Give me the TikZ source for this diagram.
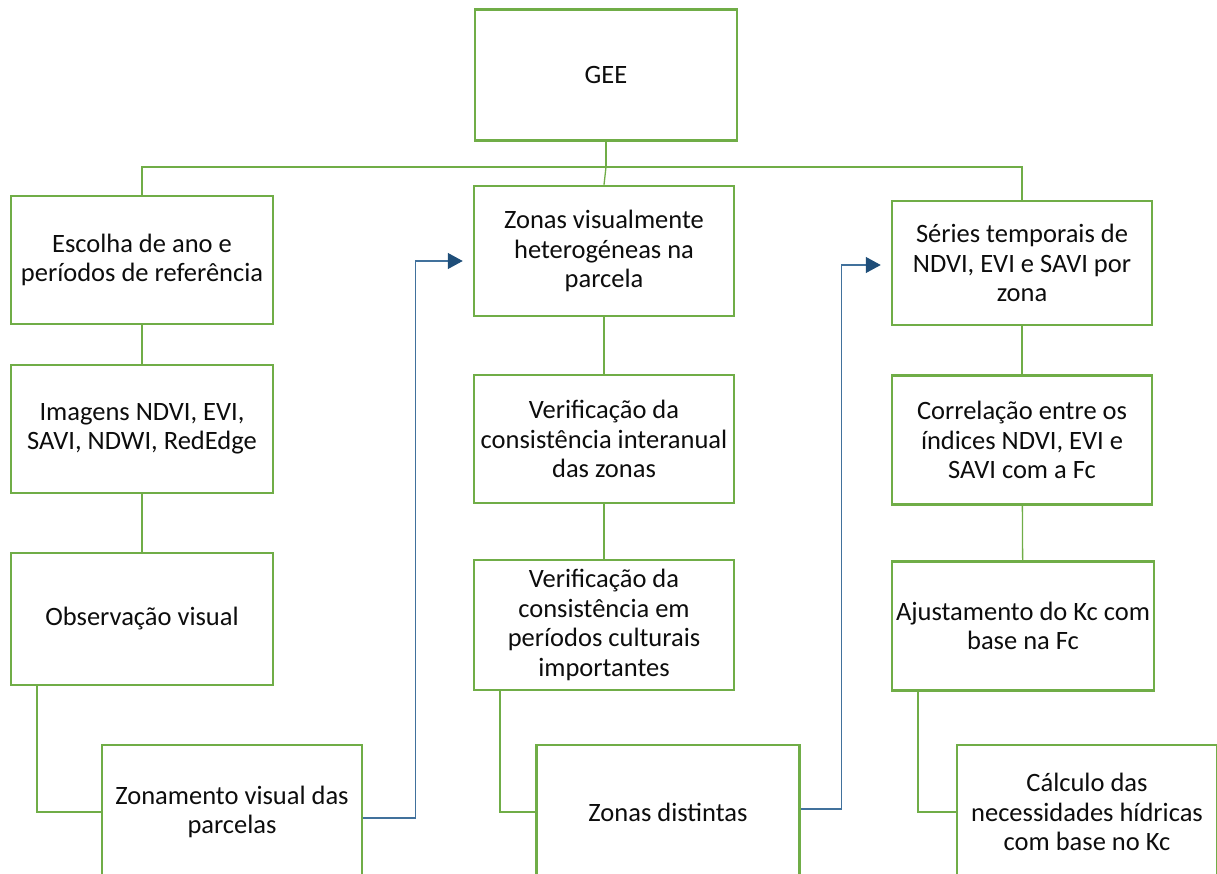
\documentclass[tikz,border=0pt]{standalone}
\usepackage{fontspec}
\setmainfont{Carlito}
\usetikzlibrary{arrows.meta}
\definecolor{boxgreen}{RGB}{112,173,71}
\definecolor{flowblue}{RGB}{65,113,156}
\definecolor{headblue}{RGB}{31,78,121}

\tikzset{
    box/.style={draw=boxgreen, line width=2.5pt, fill=white, inner sep=0pt,
        minimum width=262pt, minimum height=130pt, align=center,
        font=\fontsize{26.5}{29.5}\selectfont, text=black!95},
    link/.style={draw=boxgreen, line width=1.3pt},
    flow/.style={draw=flowblue, line width=1.3pt,
        -{Triangle[length=15pt,width=16pt,fill=headblue,color=headblue]}, shorten >=10pt}
}

\begin{document}
\begin{tikzpicture}[x=1pt, y=-1pt]
    \clip (0,0) rectangle (1217,873);

    \node[box, minimum height=131pt] (gee) at (606,75) {GEE};

    % left column
    \node[box, minimum height=128pt] (esc) at (142,260) {Escolha de ano e\\períodos de referência};
    \node[box, minimum height=128pt] (img) at (142,429) {Imagens NDVI, EVI,\\SAVI, NDWI, RedEdge};
    \node[box, minimum height=132pt] (obs) at (142,619) {Observação visual};
    \node[box, minimum width=260pt, minimum height=134pt] (zonam) at (232,812) {Zonamento visual das\\parcelas};

    % middle column
    \node[box, minimum width=260pt] (zvh) at (604,251) {Zonas visualmente\\heterogéneas na\\parcela};
    \node[box, minimum width=260pt, minimum height=128pt] (vci) at (604,439) {Verificação da\\consistência interanual\\das zonas};
    \node[box, minimum width=260pt] (vcp) at (604,625) {Verificação da\\consistência em\\períodos culturais\\importantes};
    \node[box, minimum width=263pt, minimum height=134pt] (zd) at (668,812) {Zonas distintas};

    % right column
    \node[box, minimum width=260pt, minimum height=124pt] (ser) at (1022,263) {Séries temporais de\\NDVI, EVI e SAVI por\\zona};
    \node[box, minimum width=260pt, minimum height=129pt] (cor) at (1022,440) {Correlação entre os\\índices NDVI, EVI e\\SAVI com a Fc};
    \node[box, minimum height=129pt] (aju) at (1023,626) {Ajustamento do Kc com\\base na Fc};
    \node[box, minimum width=260pt, minimum height=134pt] (calc) at (1087,812) {Cálculo das\\necessidades hídricas\\com base no Kc};

    \coordinate (bus) at (606,167);

    \draw[link] (gee) -- (bus);
    \draw[link] (esc.north) |- (bus) -| (ser.north);
    \draw[link] (bus) -- (zvh.north);

    \draw[link] (esc) -- (img);
    \draw[link] (img) -- (obs);
    \draw[link] ([xshift=-105pt]obs.south) |- (zonam.west);

    \draw[link] (zvh) -- (vci);
    \draw[link] (vci) -- (vcp);
    \draw[link] ([xshift=-104pt]vcp.south) |- (zd.west);

    \draw[link] (ser) -- (cor);
    \draw[link] (cor) -- (aju);
    \draw[link] ([xshift=-105pt]aju.south) |- (calc.west);

    \draw[flow] ([yshift=-6pt]zonam.east) -- ++(52,0) |- ([yshift=-10pt]zvh.west);
    \draw[flow] ([yshift=3pt]zd.east) -- ++(41,0) |- ([yshift=-2pt]ser.west);
\end{tikzpicture}
\end{document}
